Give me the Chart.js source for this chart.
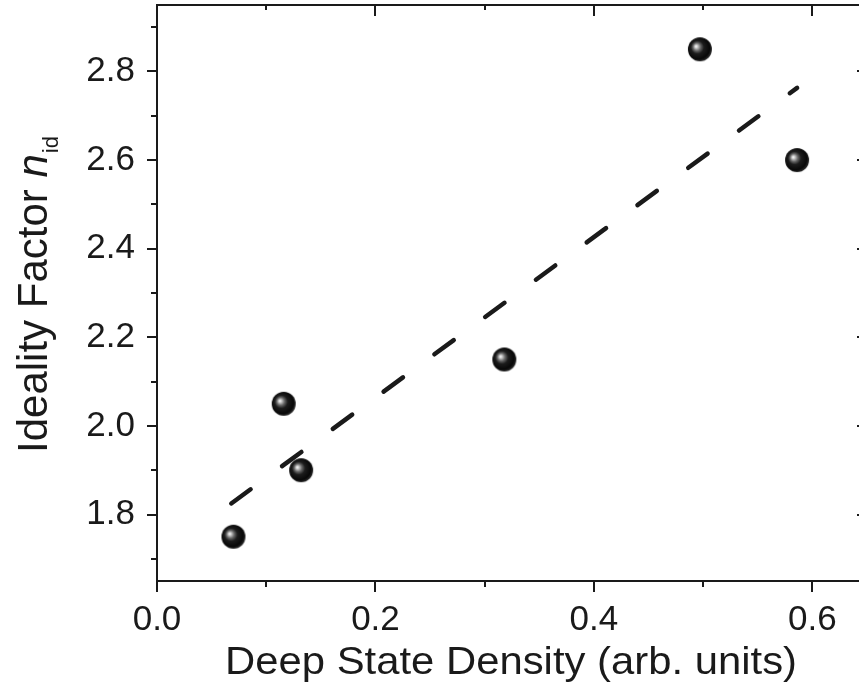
<!DOCTYPE html>
<html>
<head>
<meta charset="utf-8">
<script src="https://cdn.jsdelivr.net/npm/chart.js@4"></script>
<style>
  html, body { margin: 0; padding: 0; background: #fff; overflow: hidden; }
</style>
</head>
<body>
<canvas id="chart" width="869" height="689"></canvas>
<script>
// measured points
const density = [0.070, 0.116, 0.132, 0.318, 0.497, 0.586];
const ideality = [1.75, 2.05, 1.90, 2.15, 2.85, 2.60];

// linear fit, end points
const fitX = [0.068, 0.586];
const fitY = [1.825, 2.763];

// axes
const xTicks = [0.0, 0.2, 0.4, 0.6];
const xMinor = [0.1, 0.3, 0.5];
const yTicks = [1.8, 2.0, 2.2, 2.4, 2.6, 2.8];
const yMinor = [1.7, 1.9, 2.1, 2.3, 2.5, 2.7, 2.9];

const xTitle = "Deep State Density (arb. units)";
const yTitle = "Ideality Factor ";
const yTitleVar = "n";
const yTitleSub = "id";

const FONT = '"Liberation Sans", Arial, Helvetica, sans-serif';
const INK = "#1a1a1a";

// shaded ball marker
function makeBall(r) {
  const c = document.createElement("canvas");
  c.width = c.height = r * 2 + 2;
  const g = c.getContext("2d");
  const cx = r + 1, cy = r + 1;
  const grad = g.createRadialGradient(cx - 4, cy - 3, 0, cx - 1, cy - 1, r + 1);
  grad.addColorStop(0, "#ffffff");
  grad.addColorStop(0.1, "#d4d4d4");
  grad.addColorStop(0.3, "#666666");
  grad.addColorStop(0.5, "#1c1c1c");
  grad.addColorStop(0.85, "#080808");
  grad.addColorStop(1, "#2a2a2a");
  g.fillStyle = grad;
  g.beginPath();
  g.arc(cx, cy, r, 0, Math.PI * 2);
  g.fill();
  return c;
}
const ball = makeBall(12);

// frame with ticks on all four sides
const frame = {
  id: "frame",
  beforeDatasetsDraw(chart) {
    const { ctx, chartArea: a, scales: { x, y } } = chart;
    ctx.save();
    ctx.strokeStyle = INK;
    ctx.lineWidth = 2;
    ctx.strokeRect(a.left, a.top, a.right - a.left, a.bottom - a.top);
    ctx.beginPath();
    const xt = (vals, out, inn) => vals.forEach(v => {
      const px = Math.round(x.getPixelForValue(v));
      ctx.moveTo(px, a.bottom); ctx.lineTo(px, a.bottom + out);
      ctx.moveTo(px, a.top); ctx.lineTo(px, a.top + inn);
    });
    const yt = (vals, out, inn) => vals.forEach(v => {
      const py = Math.round(y.getPixelForValue(v));
      ctx.moveTo(a.left, py); ctx.lineTo(a.left - out, py);
      ctx.moveTo(a.right, py); ctx.lineTo(a.right - inn, py);
    });
    xt(xTicks, 11, 11);
    xt(xMinor, 6, 5);
    yt(yTicks, 10, 10);
    yt(yMinor, 6, 5);
    ctx.stroke();
    ctx.restore();
  }
};

// axis titles (y title has italic n with subscript)
const titles = {
  id: "titles",
  afterDraw(chart) {
    const { ctx } = chart;
    ctx.save();
    ctx.fillStyle = INK;
    ctx.textBaseline = "alphabetic";
    ctx.textAlign = "left";

    ctx.font = "39px " + FONT;
    const wx = ctx.measureText(xTitle).width;
    ctx.save();
    ctx.translate(225, 674);
    ctx.scale(572 / wx, 1);
    ctx.fillText(xTitle, 0, 0);
    ctx.restore();

    ctx.translate(47, 453);
    ctx.rotate(-Math.PI / 2);
    ctx.font = "42px " + FONT;
    const ws = ctx.measureText(yTitle).width;
    ctx.fillText(yTitle, 0, 0);
    ctx.font = "italic 42px " + FONT;
    ctx.fillText(yTitleVar, ws, 0);
    const wn = ctx.measureText(yTitleVar).width;
    ctx.font = "22px " + FONT;
    ctx.fillText(yTitleSub, ws + wn + 1, 11);
    ctx.restore();
  }
};

const tickFont = { family: FONT, size: 35 };
const noPad = s => { s.paddingTop = s.paddingBottom = s.paddingLeft = s.paddingRight = 0; };

new Chart(document.getElementById("chart"), {
  type: "scatter",
  data: {
    datasets: [
      {
        label: "data",
        data: density.map((v, i) => ({ x: v, y: ideality[i] })),
        pointStyle: ball,
        pointRadius: 12
      },
      {
        label: "fit",
        type: "line",
        data: fitX.map((v, i) => ({ x: v, y: fitY[i] })),
        borderColor: INK,
        borderWidth: 4.5,
        borderDash: [24, 39],
        borderCapStyle: "round",
        pointRadius: 0,
        fill: false
      }
    ]
  },
  options: {
    responsive: false,
    animation: false,
    layout: { autoPadding: false, padding: { top: 5, right: 2, left: 0, bottom: 0 } },
    plugins: { legend: { display: false }, tooltip: { enabled: false } },
    scales: {
      x: {
        type: "linear",
        min: 0,
        max: 0.65,
        grid: { display: false, drawTicks: false },
        border: { display: false },
        afterBuildTicks: s => { s.ticks = xTicks.map(v => ({ value: v })); },
        afterFit: s => { s.height = 108; noPad(s); },
        ticks: {
          padding: 18,
          color: INK,
          font: tickFont,
          maxRotation: 0,
          autoSkip: false,
          callback: v => v.toFixed(1)
        }
      },
      y: {
        type: "linear",
        min: 1.65,
        max: 2.95,
        grid: { display: false, drawTicks: false },
        border: { display: false },
        afterBuildTicks: s => { s.ticks = yTicks.map(v => ({ value: v })); },
        afterFit: s => { s.width = 157; noPad(s); },
        ticks: {
          padding: 22,
          color: INK,
          font: tickFont,
          autoSkip: false,
          callback: v => v.toFixed(1)
        }
      }
    }
  },
  plugins: [frame, titles]
});
</script>
</body>
</html>
